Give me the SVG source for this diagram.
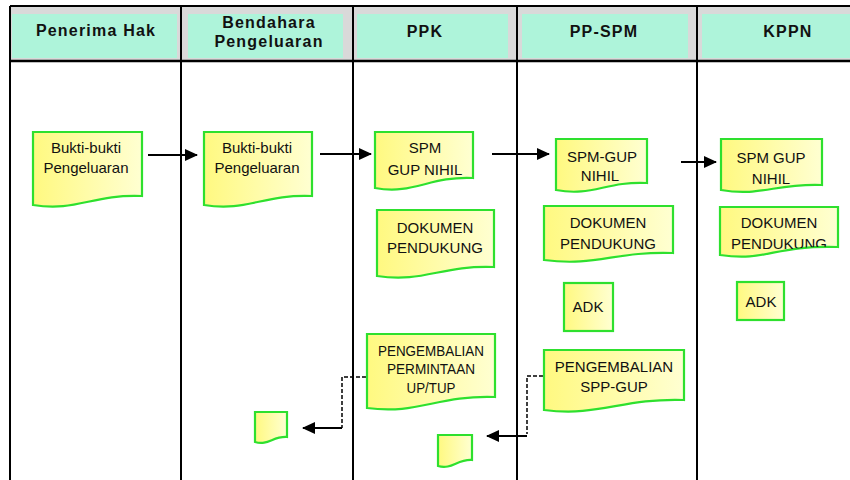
<svg xmlns="http://www.w3.org/2000/svg" width="850" height="480" viewBox="0 0 850 480">
<defs>
<linearGradient id="yel" x1="0" y1="0" x2="1" y2="0">
<stop offset="0" stop-color="#fff980"/>
<stop offset="1" stop-color="#ffffd2"/>
</linearGradient>
<marker id="ah" markerWidth="13" markerHeight="12" refX="12" refY="6" orient="auto" markerUnits="userSpaceOnUse">
<path d="M0,0 L13,6 L0,12 Z" fill="#000"/>
</marker>
<clipPath id="c12"><path d="M721,139 H822 V185 C776,183 761,197 721,190 Z"/></clipPath>
<clipPath id="c13"><path d="M720,207 H838 V247 C773,245 767,262 720,255 Z"/></clipPath>
</defs>
<style>
.hd{font-family:"Liberation Sans",Arial,sans-serif;font-size:16px;font-weight:bold;letter-spacing:1.2px;text-anchor:middle;fill:#111}
.doc{fill:url(#yel);stroke:#2ee02e;stroke-width:2.2}
.t{font-family:"Liberation Sans",Arial,sans-serif;font-size:15px;text-anchor:middle;fill:#111}
.lane{stroke:#000;stroke-width:2;fill:none}
.con{stroke:#000;stroke-width:2;fill:none}
.dash{stroke:#000;stroke-width:1.5;fill:none;stroke-dasharray:4 2}
</style>
<rect width="850" height="480" fill="#fff"/>
<g id="header">
<rect x="10" y="6" width="840" height="55" fill="#d9d9d9"/>
<rect x="12" y="14" width="165" height="44" fill="#aef4da"/>
<rect x="188" y="14" width="155" height="44" fill="#aef4da"/>
<rect x="357" y="14" width="151" height="44" fill="#aef4da"/>
<rect x="522" y="14" width="166" height="44" fill="#aef4da"/>
<rect x="702" y="14" width="148" height="44" fill="#aef4da"/>
<line x1="10" y1="6" x2="850" y2="6" stroke="#000" stroke-width="2"/>
<line x1="10" y1="61" x2="850" y2="61" stroke="#000" stroke-width="2.5"/>
<text class="hd" x="96" y="36">Penerima Hak</text>
<text class="hd" x="269" y="28">Bendahara</text>
<text class="hd" x="269" y="47">Pengeluaran</text>
<text class="hd" x="425" y="37">PPK</text>
<text class="hd" x="604" y="37">PP-SPM</text>
<text class="hd" x="788" y="37">KPPN</text>
</g>
<g id="lanes">
<line class="lane" x1="10" y1="6" x2="10" y2="480"/>
<line class="lane" x1="181" y1="6" x2="181" y2="480"/>
<line class="lane" x1="353" y1="6" x2="353" y2="480"/>
<line class="lane" x1="517" y1="6" x2="517" y2="480"/>
<line class="lane" x1="697" y1="6" x2="697" y2="480"/>
</g>
<g id="connectors">
<line class="con" x1="148" y1="155" x2="197" y2="155" marker-end="url(#ah)"/>
<line class="con" x1="320" y1="154" x2="371" y2="154" marker-end="url(#ah)"/>
<line class="con" x1="492" y1="154" x2="549" y2="154" marker-end="url(#ah)"/>
<line class="con" x1="681" y1="162" x2="716" y2="162" marker-end="url(#ah)"/>
<path class="dash" d="M366,377 H342 V428"/>
<line class="con" x1="342" y1="428" x2="303" y2="428" marker-end="url(#ah)"/>
<path class="dash" d="M543,376 H527 V434"/>
<line class="con" x1="527" y1="436" x2="487" y2="436" marker-end="url(#ah)"/>
</g>
<g id="n1"><path class="doc" d="M33,132 H142 V196 C92,194 77,212 33,205 Z"/>
<text class="t" x="86" y="153" font-size="14.5">Bukti-bukti</text><text class="t" x="86" y="173" font-size="14.5">Pengeluaran</text></g>
<g id="n2"><path class="doc" d="M204,132 H312 V196 C263,194 247,212 204,205 Z"/>
<text class="t" x="257" y="153" font-size="14.5">Bukti-bukti</text><text class="t" x="257" y="173" font-size="14.5">Pengeluaran</text></g>
<g id="n3"><path class="doc" d="M375,132 H473 V178 C429,176 414,195 375,188 Z"/>
<text class="t" x="425" y="153">SPM</text><text class="t" x="425" y="175">GUP NIHIL</text></g>
<g id="n4"><path class="doc" d="M377,210 H494 V267 C441,265 424,283 377,276 Z"/>
<text class="t" x="435" y="233">DOKUMEN</text><text class="t" x="435" y="253">PENDUKUNG</text></g>
<g id="n5"><path class="doc" d="M556,139 H647 V183 C606,181 592,197 556,190 Z"/>
<text class="t" x="602" y="162">SPM-GUP</text><text class="t" x="600" y="181" font-size="14">NIHIL</text></g>
<g id="n6"><path class="doc" d="M544,206 H673 V253 C615,251 596,267 544,260 Z"/>
<text class="t" x="608" y="228">DOKUMEN</text><text class="t" x="608" y="249">PENDUKUNG</text></g>
<g id="n7"><rect class="doc" x="564" y="283" width="49" height="48"/>
<text class="t" x="588" y="312" font-size="13">ADK</text></g>
<g id="n8"><path class="doc" d="M544,350 H684 V400 C621,398 600,417 544,410 Z"/>
<text class="t" x="614" y="372">PENGEMBALIAN</text><text class="t" x="614" y="392">SPP-GUP</text></g>
<g id="n9"><path class="doc" d="M367,334 H495 V397 C437,395 418,415 367,408 Z"/>
<text class="t" x="431" y="356" font-size="14" textLength="106" lengthAdjust="spacingAndGlyphs">PENGEMBALIAN</text>
<text class="t" x="431" y="374" font-size="14" textLength="88" lengthAdjust="spacingAndGlyphs">PERMINTAAN</text>
<text class="t" x="431" y="393" font-size="14" textLength="49" lengthAdjust="spacingAndGlyphs">UP/TUP</text></g>
<g id="n10"><path class="doc" d="M255,412 H287 V437 C273,436 268,446 255,442 Z"/></g>
<g id="n11"><path class="doc" d="M438,435 H472 V460 C457,459 452,470 438,466 Z"/></g>
<g id="n12"><path class="doc" d="M721,139 H822 V185 C776,183 761,197 721,190 Z"/>
<g clip-path="url(#c12)"><text class="t" x="771" y="163">SPM GUP</text><text class="t" x="771" y="184" font-size="14">NIHIL</text></g></g>
<g id="n13"><path class="doc" d="M720,207 H838 V247 C773,245 767,262 720,255 Z"/>
<g clip-path="url(#c13)"><text class="t" x="779" y="228">DOKUMEN</text><text class="t" x="779" y="249">PENDUKUNG</text></g></g>
<g id="n14"><rect class="doc" x="737" y="282" width="47" height="38"/>
<text class="t" x="761" y="307" font-size="13">ADK</text></g>
</svg>
